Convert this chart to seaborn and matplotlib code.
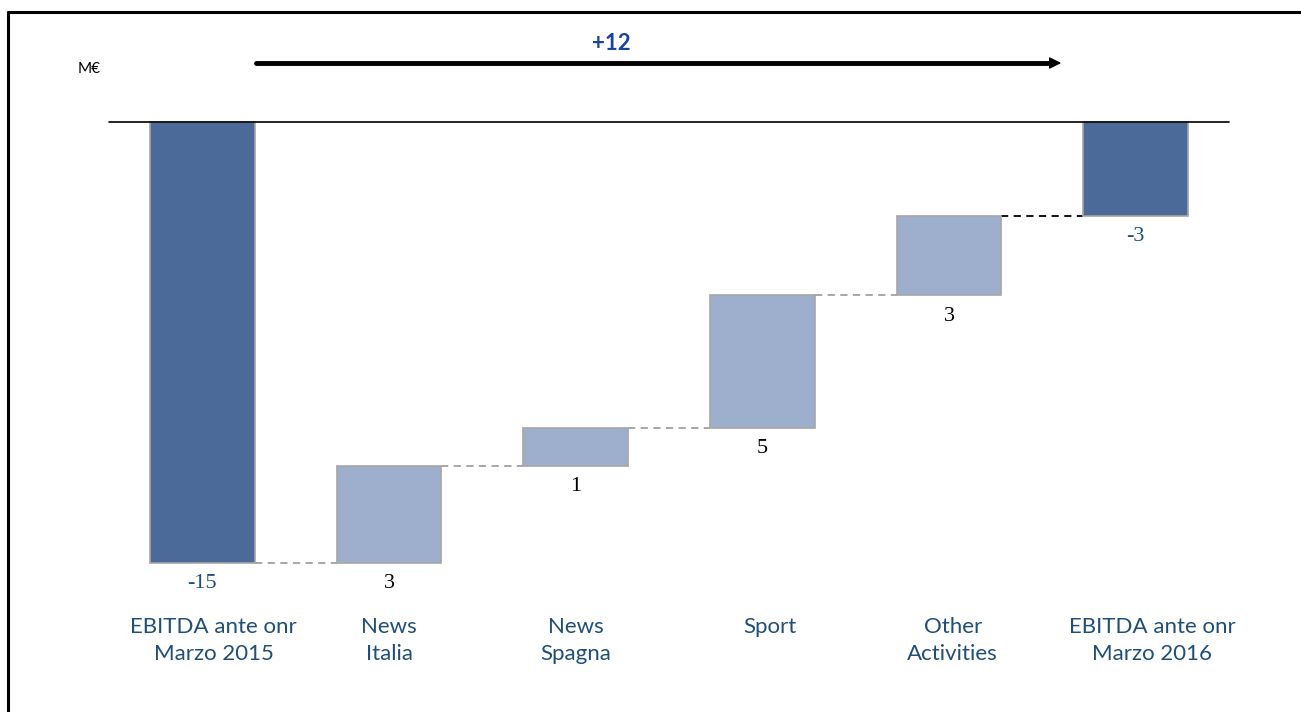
import numpy as np
import matplotlib
matplotlib.use("Agg")
import matplotlib.pyplot as plt
import matplotlib.transforms as transforms
from matplotlib.lines import Line2D
import seaborn as sns

# data (M€)
categories = ["EBITDA ante onr\nMarzo 2015", "News\nItalia", "News\nSpagna",
              "Sport", "Other\nActivities", "EBITDA ante onr\nMarzo 2016"]
start_value = -15.0
deltas = [3.3, 1.3, 4.5, 2.7]
value_labels = ["-15", "3", "1", "5", "3", "-3"]
total_change_label = "+12"
unit_label = "M€"

TOTAL_COLOR = "#4B6A99"
STEP_COLOR = "#9DAFCD"
EDGE_COLOR = "#A6A6A6"
TEXT_BLUE = "#1F4E79"
ARROW_BLUE = "#1A43A0"


def main():
    sns.set_theme(style="white")
    plt.rcParams["font.family"] = ["Lato", "DejaVu Sans"]

    W, H = 1301, 712
    fig = plt.figure(figsize=(W / 100, H / 100), dpi=100, facecolor="white")

    def fx(px):
        return px / W

    def fy(py):
        return 1 - py / H

    # axes spans zero line (y=122px) down to the -15 level (y=563px)
    ax = fig.add_axes([fx(109), fy(563), fx(1229) - fx(109), fy(122) - fy(563)])
    ax.set_xlim(-0.5, len(categories) - 0.5)
    ax.set_ylim(start_value, 0)
    ax.axis("off")

    # waterfall geometry
    running = np.concatenate([[start_value], start_value + np.cumsum(deltas)])
    end_value = running[-1]
    bottoms = [0.0] + list(running[:-1]) + [0.0]
    heights = [start_value] + list(deltas) + [end_value]
    colors = [TOTAL_COLOR] + [STEP_COLOR] * len(deltas) + [TOTAL_COLOR]
    x = np.arange(len(categories))
    width = 0.56

    ax.bar(x, heights, bottom=bottoms, width=width, color=colors,
           edgecolor=EDGE_COLOR, linewidth=1.2, clip_on=False, zorder=2)

    # zero line
    ax.axhline(0, color="black", lw=1.2, zorder=3, clip_on=False)

    # connectors
    levels = list(running)
    for i in range(len(categories) - 1):
        c = "black" if i == len(categories) - 2 else "#A0A0A0"
        ax.plot([x[i] + width / 2, x[i + 1] - width / 2], [levels[i], levels[i]],
                ls=(0, (4, 3)), color=c, lw=1.3, zorder=1, clip_on=False)

    # value labels below each bar
    for i, lab in enumerate(value_labels):
        low = min(bottoms[i], bottoms[i] + heights[i])
        is_total = i in (0, len(categories) - 1)
        ax.annotate(lab, (x[i], low), xytext=(0, -8), textcoords="offset points",
                    ha="center", va="top", fontsize=16,
                    family=["Liberation Serif", "DejaVu Serif"],
                    color=TEXT_BLUE if is_total else "black")

    # category labels (small horizontal nudges as in the original slide)
    nudges = [0.06, 0.0, 0.0, 0.04, 0.02, 0.09]
    trans = transforms.blended_transform_factory(ax.transData, fig.transFigure)
    for i, cat in enumerate(categories):
        ax.text(x[i] + nudges[i], fy(617), cat, transform=trans, ha="center", va="top",
                fontsize=16, color=TEXT_BLUE, linespacing=1.45)

    # total change arrow
    fig.add_artist(Line2D([fx(256), fx(1052)], [fy(63), fy(63)], color="black", lw=3.5))
    ax.annotate("", xy=(fx(1064), fy(63)), xytext=(fx(1045), fy(63)),
                xycoords="figure fraction", textcoords="figure fraction",
                arrowprops=dict(arrowstyle="-|>", color="black", lw=1,
                                mutation_scale=18))
    fig.text(fx(611), fy(43), total_change_label, ha="center", va="center",
             fontsize=16, fontweight="bold", color=ARROW_BLUE)
    fig.text(fx(89), fy(69), unit_label, ha="center", va="center",
             fontsize=11, color="black")

    # frame (top and left edges)
    fig.add_artist(Line2D([fx(8), 1], [fy(12), fy(12)], color="black", lw=2.2))
    fig.add_artist(Line2D([fx(8), fx(8)], [fy(12), 0], color="black", lw=2.2))

    fig.savefig("out.png", dpi=100, facecolor="white")
    plt.close(fig)


if __name__ == "__main__":
    main()
